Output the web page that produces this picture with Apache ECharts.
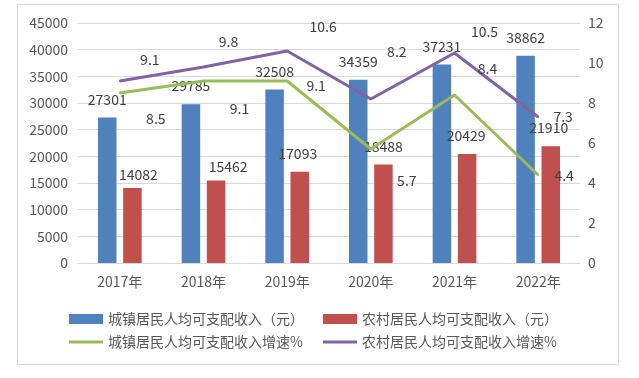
<!DOCTYPE html>
<html>
<head>
<meta charset="utf-8">
<script src="https://cdn.jsdelivr.net/npm/echarts@6/dist/echarts.min.js"></script>
<style>
html,body{margin:0;padding:0;background:#fff;}
#chart{width:639px;height:378px;}
</style>
</head>
<body>
<div id="chart"></div>
<script>
var categories = ['2017年','2018年','2019年','2020年','2021年','2022年'];
var urbanIncome = [27301, 29785, 32508, 34359, 37231, 38862];
var ruralIncome = [14082, 15462, 17093, 18488, 20429, 21910];
var urbanGrowth = [8.5, 9.1, 9.1, 5.7, 8.4, 4.4];
var ruralGrowth = [9.1, 9.8, 10.6, 8.2, 10.5, 7.3];
var seriesNames = ['城镇居民人均可支配收入（元）','农村居民人均可支配收入（元）','城镇居民人均可支配收入增速%','农村居民人均可支配收入增速%'];

// label placement (style only)
var redLabelOffset = [[6,5],[12,4],[-2,0],[0,0],[-1,0],[-2,0]];
var greenLabelOffset = [[36,26],[36,28],[29,5],[36,32],[33,-26],[26,1]];
var purpleLabelOffset = [[30,-21],[25,-25],[36,-24],[26,-47],[30,-21],[25,0]];

var FONT = 'Noto Sans CJK SC';
var TXT = '#595959';
var LBL = '#404040';
var LINE_ICON = 'path://M0,0H34V3H0Z';

var chart = echarts.init(document.getElementById('chart'), null, {renderer: 'canvas'});
function mkLegend(name, icon, left, top) {
  return {
    data: [{name: name, icon: icon}], left: left, top: top, orient: 'horizontal',
    padding: 0, itemWidth: 34, itemHeight: 10, itemGap: 10,
    textStyle: {color: TXT, fontSize: 14, fontFamily: FONT},
    selectedMode: false
  };
}
var option = {
  backgroundColor: '#fff',
  animation: false,
  graphic: [{
    type: 'rect', shape: {x: 17.5, y: 4.5, width: 601, height: 360},
    style: {fill: 'none', stroke: '#d9d9d9', lineWidth: 1}, z: -1
  }],
  legend: [
    mkLegend(seriesNames[0], 'rect', 69, 312),
    mkLegend(seriesNames[1], 'rect', 323, 312),
    mkLegend(seriesNames[2], LINE_ICON, 69, 335),
    mkLegend(seriesNames[3], LINE_ICON, 323, 335)
  ],
  grid: {left: 78, right: 59, top: 23, bottom: 115, containLabel: false},
  xAxis: {
    type: 'category', data: categories,
    axisLine: {lineStyle: {color: '#d9d9d9'}},
    axisTick: {show: false},
    axisLabel: {color: TXT, fontSize: 14, fontFamily: FONT, margin: 12}
  },
  yAxis: [{
    type: 'value', min: 0, max: 45000, interval: 5000,
    axisLine: {show: false}, axisTick: {show: false},
    axisLabel: {color: TXT, fontSize: 14, fontFamily: FONT, margin: 10,
      formatter: function (v) { return String(v); }},
    splitLine: {lineStyle: {color: '#d9d9d9'}}
  }, {
    type: 'value', min: 0, max: 12, interval: 2,
    axisLine: {show: false}, axisTick: {show: false},
    axisLabel: {color: TXT, fontSize: 14, fontFamily: FONT, margin: 8},
    splitLine: {show: false}
  }],
  series: [{
    name: seriesNames[0], type: 'bar', data: urbanIncome,
    barWidth: 18.5, barGap: '36%',
    itemStyle: {color: '#4f81bd'},
    label: {show: true, position: 'top', distance: 11, color: LBL, fontSize: 14, fontFamily: FONT}
  }, {
    name: seriesNames[1], type: 'bar',
    data: ruralIncome.map(function (v, i) {
      return {value: v, label: {offset: redLabelOffset[i]}};
    }),
    barWidth: 18.5, barGap: '36%',
    itemStyle: {color: '#c0504d'},
    label: {show: true, position: 'top', distance: 11, color: LBL, fontSize: 14, fontFamily: FONT}
  }, {
    name: seriesNames[2], type: 'line', yAxisIndex: 1,
    data: urbanGrowth.map(function (v, i) {
      return {value: v, label: {offset: greenLabelOffset[i]}};
    }),
    symbol: 'circle', symbolSize: 2, showSymbol: true,
    lineStyle: {color: '#9bbb59', width: 3},
    itemStyle: {color: '#9bbb59'},
    label: {show: true, position: 'inside', color: LBL, fontSize: 14, fontFamily: FONT}
  }, {
    name: seriesNames[3], type: 'line', yAxisIndex: 1,
    data: ruralGrowth.map(function (v, i) {
      return {value: v, label: {offset: purpleLabelOffset[i]}};
    }),
    symbol: 'circle', symbolSize: 2, showSymbol: true,
    lineStyle: {color: '#8064a2', width: 3},
    itemStyle: {color: '#8064a2'},
    label: {show: true, position: 'inside', color: LBL, fontSize: 14, fontFamily: FONT}
  }]
};
chart.setOption(option);
</script>
</body>
</html>
